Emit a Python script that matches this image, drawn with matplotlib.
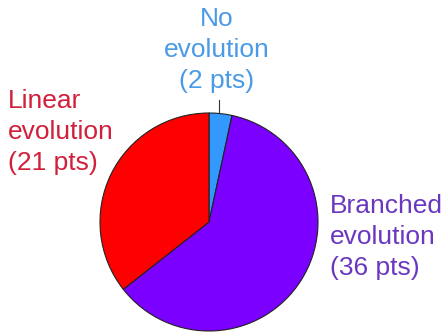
import matplotlib
matplotlib.use("Agg")
import matplotlib.pyplot as plt

categories = ["No\nevolution\n(2 pts)", "Branched\nevolution\n(36 pts)", "Linear\nevolution\n(21 pts)"]
values = [2, 36, 21]
slice_colors = ["#3399FF", "#7B00FF", "#FF0000"]
text_colors = ["#4A9BE6", "#6A38C0", "#D0203C"]

W, H = 446, 335
fig = plt.figure(figsize=(W / 100, H / 100), dpi=100)
ax = fig.add_axes([0, 0, 1, 1])

cx, cy, r = 209, H - 222, 109
ax.pie(values, colors=slice_colors, startangle=90, counterclock=False,
       center=(cx, cy), radius=r, frame=True,
       wedgeprops=dict(edgecolor="#222222", linewidth=0.8))
ax.set_xlim(0, W)
ax.set_ylim(0, H)
ax.set_aspect("equal")
ax.axis("off")

font = dict(family="Liberation Sans", fontsize=19, linespacing=1.36)
ax.text(217, H - 7, categories[0], color=text_colors[0], ha="center", va="top", **font)
ax.text(330, H - 194, categories[1], color=text_colors[1], ha="left", va="top", **font)
ax.text(8, H - 89, categories[2], color=text_colors[2], ha="left", va="top", **font)
ax.plot([219, 219], [H - 100, H - 112], color="#333333", linewidth=0.8)

fig.savefig("out.png", dpi=100, facecolor="white")
